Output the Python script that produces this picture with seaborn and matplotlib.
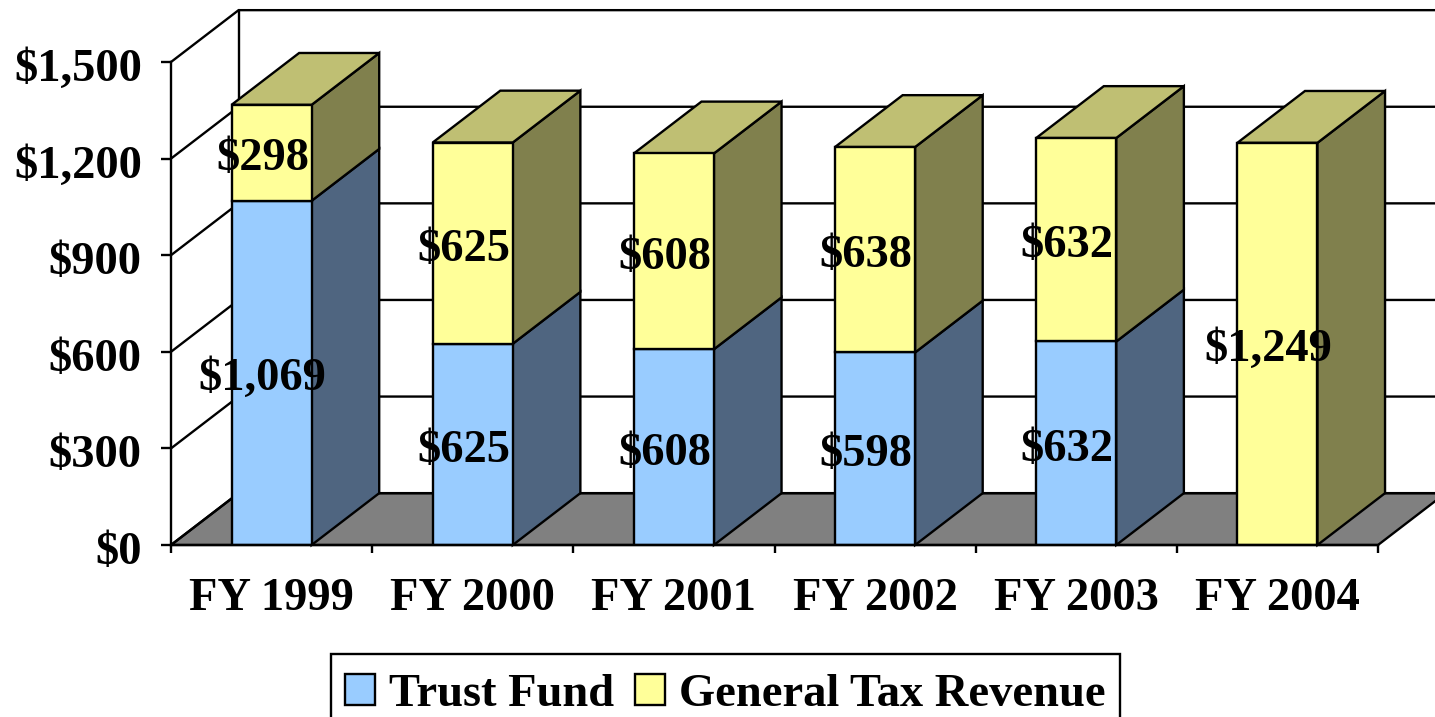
import matplotlib
matplotlib.use("Agg")
import matplotlib.pyplot as plt
from matplotlib.patches import Patch, Rectangle
from matplotlib.transforms import ScaledTranslation
import seaborn as sns

years = ["FY 1999", "FY 2000", "FY 2001", "FY 2002", "FY 2003", "FY 2004"]
trust_fund = [1069, 625, 608, 598, 632, 0]
general_tax = [298, 625, 608, 638, 632, 1249]
y_ticks = [0, 300, 600, 900, 1200, 1500]

BLUE = "#99CCFF"
YELLOW = "#FFFF99"
BLUE_SIDE = "#4F6580"
YELLOW_SIDE = "#80804D"
YELLOW_TOP = "#BFBF73"
FLOOR = "#808080"
LW = 1.7
BAR_W = 0.398
FS = 33.5
# fake 3d depth, in category units and dollars
DX = 0.336
DY = 161

sns.set_style("white")
plt.rcParams["font.family"] = ["Liberation Serif", "DejaVu Serif"]
plt.rcParams["font.weight"] = "bold"
plt.rcParams["text.color"] = "black"
plt.rcParams["xtick.color"] = "black"
plt.rcParams["ytick.color"] = "black"

W, H = 1435, 717
fig = plt.figure(figsize=(W / 100, H / 100), dpi=100)
ax = fig.add_axes([171 / W, 1 - 545 / H, (1378 - 171) / W, (545 - 62) / H])
ax.patch.set_alpha(0)

bar_kws = dict(width=BAR_W, saturation=1, edgecolor="black", linewidth=LW, zorder=4)
sns.barplot(x=years, y=trust_fund, color=BLUE, ax=ax, **bar_kws)
sns.barplot(x=years, y=general_tax, bottom=trust_fund, color=YELLOW, ax=ax, **bar_kws)

x0, x1 = -0.5, 5.5
ax.set_xlim(x0, x1)
ax.set_ylim(0, 1500)

# floor and walls
ax.fill([x0, x0 + DX, x1 + DX, x1], [0, DY, DY, 0], facecolor=FLOOR, edgecolor="black",
        linewidth=LW, clip_on=False, zorder=1)
ax.plot([x0 + DX, x0 + DX], [DY, 1500 + DY], color="black", lw=LW, clip_on=False, zorder=2)
for v in y_ticks:
    ax.plot([x0, x0 + DX, x1 + DX], [v, v + DY, v + DY], color="black", lw=LW,
            clip_on=False, zorder=2)

# side and top faces of the columns
poly_kws = dict(edgecolor="black", linewidth=LW, clip_on=False, zorder=3)
for i in range(len(years)):
    xr = i + BAR_W / 2
    xl = i - BAR_W / 2
    t = trust_fund[i]
    top = t + general_tax[i]
    if t > 0:
        ax.fill([xr, xr + DX, xr + DX, xr], [0, DY, t + DY, t], facecolor=BLUE_SIDE, **poly_kws)
    ax.fill([xr, xr + DX, xr + DX, xr], [t, t + DY, top + DY, top], facecolor=YELLOW_SIDE, **poly_kws)
    ax.fill([xl, xl + DX, xr + DX, xr], [top, top + DY, top + DY, top], facecolor=YELLOW_TOP, **poly_kws)

# value labels sit a little left of the column centre
for i in range(len(years)):
    t = trust_fund[i]
    g = general_tax[i]
    if t > 0:
        ax.text(i - 0.045, t / 2 - 20, f"${t:,}", ha="center", va="center", fontsize=FS,
                fontweight="bold", color="black", zorder=6, clip_on=False)
    ax.text(i - 0.045, t + g / 2 - 20, f"${g:,}", ha="center", va="center", fontsize=FS,
            fontweight="bold", color="black", zorder=6, clip_on=False)

ax.set_yticks(y_ticks)
ax.set_yticklabels([f"${v:,}" for v in y_ticks])
ax.set_xticks(range(len(years)))
ax.set_xticklabels(years)
ax.set_xticks([x0 + k for k in range(len(years) + 1)], minor=True)
ax.tick_params(axis="y", which="major", left=True, length=7, width=LW, color="black",
               labelsize=FS, pad=14)
ax.tick_params(axis="x", which="major", bottom=False, length=0, labelsize=FS, pad=24)
ax.tick_params(axis="x", which="minor", bottom=True, length=6, width=LW, color="black")
ax.set_xlabel("")
ax.set_ylabel("")

# y labels sit a bit below their ticks
nudge = ScaledTranslation(0, -3 / 100, fig.dpi_scale_trans)
for lab in ax.get_yticklabels():
    lab.set_transform(lab.get_transform() + nudge)

for name in ["top", "right"]:
    ax.spines[name].set_visible(False)
for name in ["left", "bottom"]:
    ax.spines[name].set_color("black")
    ax.spines[name].set_linewidth(LW)
    ax.spines[name].set_zorder(5)

# the legend box runs off the bottom of the picture, so its frame is drawn on its own
fig.add_artist(Rectangle((331 / W, -0.02), (1120 - 331) / W, 1.02 - 654 / H, transform=fig.transFigure,
                         facecolor="white", edgecolor="black", linewidth=LW))
handles = [Patch(facecolor=BLUE, edgecolor="black", linewidth=LW, label="Trust Fund"),
           Patch(facecolor=YELLOW, edgecolor="black", linewidth=LW, label="General Tax Revenue")]
leg = fig.legend(handles=handles, loc="upper left", bbox_to_anchor=(345 / W, 1 - 674 / H),
                 ncol=2, fontsize=FS, frameon=False, handlelength=0.65, handleheight=0.65,
                 handletextpad=0.3, columnspacing=0.44, borderpad=0, borderaxespad=0)
leg.set_zorder(10)

fig.savefig("out.png", dpi=100)
